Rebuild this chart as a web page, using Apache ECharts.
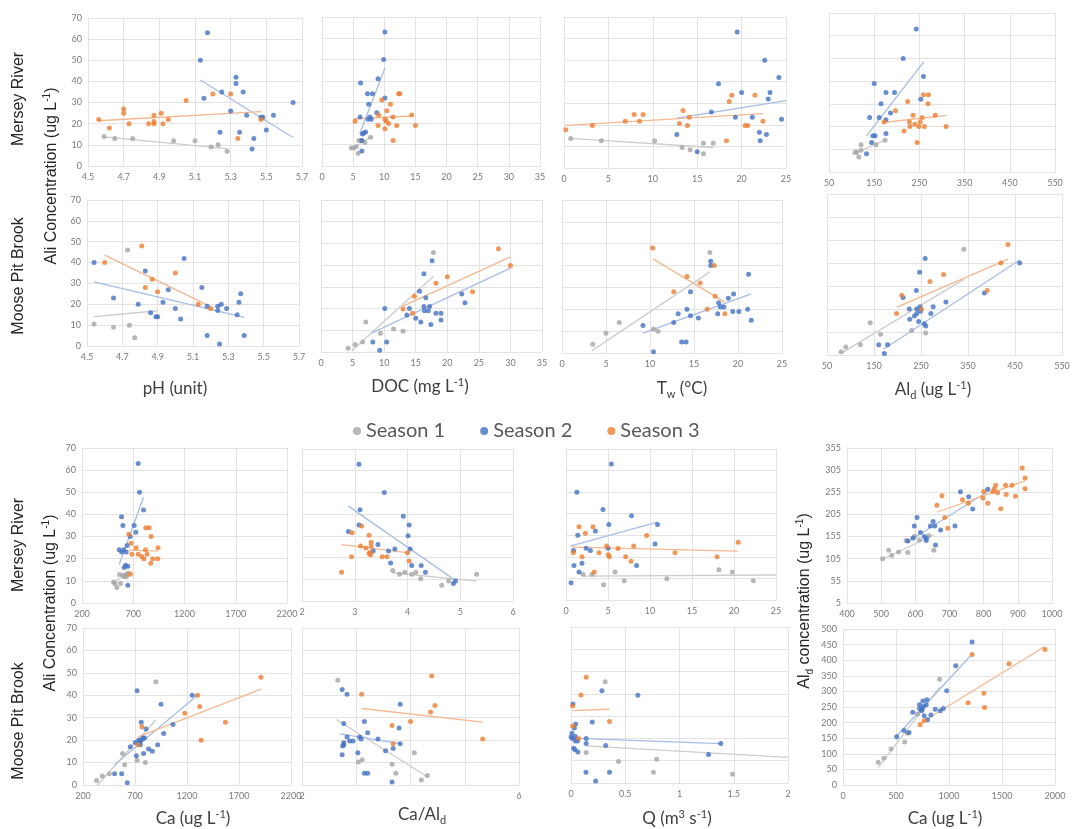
<!DOCTYPE html>
<html>
<head>
<meta charset="utf-8">
<script src="https://cdn.jsdelivr.net/npm/echarts@6/dist/echarts.min.js"></script>
<style>
  html, body { margin: 0; padding: 0; background: #ffffff; }
  #chart { width: 1084px; height: 829px; }
</style>
</head>
<body>
<div id="chart"></div>
<script>
// ---- Season names ----
const seasons = ['Season 1', 'Season 2', 'Season 3'];

// ---- Mersey River: Ali (ug/L) vs pH ----
const merseyPH1 = [[4.59,14],[4.65,13],[4.75,13],[4.98,12],[5.10,12],[5.19,9],[5.23,10],[5.28,7]];
const merseyPH2 = [[5.13,50],[5.17,63],[5.15,32],[5.25,35],[5.24,16],[5.30,26],[5.33,42],[5.33,39],[5.37,35],[5.39,24],[5.35,16],[5.43,13],[5.42,8],[5.47,23],[5.48,23],[5.50,17],[5.54,24],[5.65,30]];
const merseyPH3 = [[4.56,22],[4.62,18],[4.70,27],[4.70,25],[4.73,20],[4.84,20],[4.87,24],[4.87,21],[4.87,20],[4.91,25],[4.92,20],[4.95,22],[5.05,31],[5.20,34],[5.30,34],[5.34,13],[5.47,22]];
const merseyPHFit = [[4.59,13.8,5.28,8.2],[5.13,40.7,5.65,13.5],[4.56,21.4,5.47,25.7]];

// ---- Mersey River: Ali vs DOC ----
const merseyDOC1 = [[4.7,8.5],[5.1,8.5],[5.5,9],[5.8,6],[5.9,12],[6.3,12],[6.9,11],[7.8,13.5]];
const merseyDOC2 = [[10.1,63],[9.9,50],[9.0,41],[6.2,39],[7.3,34],[8.1,34],[7.5,29],[10.1,32],[8.8,25],[6.1,23],[7.7,23],[7.4,22],[7.9,22],[7.0,16],[6.7,15.5],[6.5,15],[6.4,12],[6.4,7]];
const merseyDOC3 = [[9.6,31],[12.3,34],[12.5,34],[11.0,29],[10.4,26],[9.1,24],[5.3,21],[10.1,22],[10.3,21],[10.7,20],[11.4,23],[9.0,19],[12.0,19],[14.4,24],[15.0,19],[10.1,17.5],[11.4,12]];
const merseyDOCFit = [[4.7,7.7,7.8,13.6],[6.06,15.2,10.1,46.0],[5.1,22.2,14.4,23.5]];

// ---- Mersey River: Ali vs water temperature ----
const merseyTw1 = [[0.75,13.7],[4.2,12.6],[10.2,12.6],[13.3,9.5],[14.2,8.5],[15.7,11.5],[16.8,11.5],[15.7,6.6]];
const merseyTw2 = [[19.5,63],[22.6,50],[24.2,42],[17.4,39],[20.0,35],[23.2,35],[23.0,32],[16.6,26],[19.3,23.5],[21.2,23.5],[24.5,22.6],[12.7,15.5],[22.0,16.6],[22.8,15.5],[22.1,12.6],[15.0,7.5]];
const merseyTw3 = [[0.2,17.7],[3.2,19.7],[6.9,21.7],[7.9,24.8],[8.5,21.7],[8.9,24.8],[13.4,26.6],[14.1,23.5],[13.0,20.6],[13.9,19.7],[18.6,30.8],[18.9,33.7],[21.5,33.7],[20.4,19.7],[20.7,19.7],[22.4,21.7],[18.3,12.6]];
const merseyTwFit = [[0.75,13.7,16.8,9.5],[12.7,23.1,25.0,31.2],[0.2,19.8,22.4,25.2]];

// ---- Mersey River: Ali vs Ald ----
const merseyAld1 = [[121,12],[154,12],[174,14],[121,9.6],[111,8.7],[116,6.6],[108,8.7]];
const merseyAld2 = [[243,63],[214,50],[259,42],[150,39],[176,35],[195,35],[253,32],[165,30],[186,26],[140,24],[161,24],[176,23],[147,16],[152,16],[176,17],[144,13],[133,8]];
const merseyAld3 = [[259,34],[270,34],[224,31],[269,30],[197,27],[236,25],[285,25],[256,24],[172,22],[228,22],[252,22],[240,21],[229,20],[249,20],[261,20],[309,20],[216,18],[245,13]];
const merseyAldFit = [[100,7.7,174,14.0],[133,15.9,260,48.6],[170,21.8,309,24.9]];

// ---- Moose Pit Brook: Ali vs pH ----
const moosePH1 = [[4.54,10.5],[4.65,9],[4.73,46],[4.74,10],[4.77,4]];
const moosePH2 = [[4.54,40],[4.83,36],[5.05,42],[4.65,23],[4.79,20],[4.86,16],[4.89,14],[4.90,14],[4.93,21],[4.96,27],[5.00,18],[5.03,13],[5.15,28],[5.18,19],[5.18,5],[5.24,19],[5.24,17],[5.26,20],[5.25,1],[5.29,18],[5.35,15],[5.36,21],[5.37,25],[5.39,5]];
const moosePH3 = [[4.60,40],[4.81,48],[4.87,32],[4.83,28],[4.90,26],[5.00,35],[5.13,20],[5.20,18]];
const moosePHFit = [[4.54,14.1,4.90,16.9],[4.54,30.7,5.39,13.7],[4.60,43.6,5.20,18.9]];

// ---- Moose Pit Brook: Ali vs DOC ----
const mooseDOC1 = [[17.8,45.8],[7.1,13.8],[9.4,8.6],[11.5,10.6],[13.0,9.6],[6.6,4.6],[5.4,3.5],[4.3,1.7]];
const mooseDOC2 = [[17.6,42],[16.3,36],[15.6,28],[16.6,25],[10.1,20],[14.0,20],[16.3,21],[17.2,21],[16.4,19],[17.0,19],[13.6,17],[15.0,15.6],[18.2,17.8],[19.0,17.8],[19.0,14.7],[15.8,13.8],[17.4,12.7],[22.3,26.7],[22.8,22.7],[8.2,4.6],[10.4,4.6],[9.3,0.8]];
const mooseDOC3 = [[28.1,47.6],[30.0,39.8],[20.0,34.6],[18.2,31.7],[14.8,25.7],[24.0,27.7],[13.0,19.8],[14.5,17.8]];
const mooseDOCFit = [[4.85,0.5,17.8,34.8],[8.0,8.7,30.0,38.6],[12.9,21.0,30.0,43.8]];

// ---- Moose Pit Brook: Ali vs water temperature ----
const mooseTw1 = [[16.8,46],[6.5,14],[5.0,9],[3.5,4],[10.4,11],[10.9,10]];
const mooseTw2 = [[21.2,36],[16.9,42],[16.9,40],[14.6,28],[19.5,27],[18.9,25],[17.8,23],[18.0,21],[18.4,21],[14.2,20],[21.1,20],[17.7,18],[13.2,18],[19.4,19],[20.1,19],[14.6,17],[15.5,16],[21.5,15],[12.7,14],[9.2,12.6],[13.6,5],[14.1,5],[10.4,0.6]];
const mooseTw3 = [[10.3,48],[17.3,40],[14.2,35],[15.7,32],[12.7,28],[17.4,26],[16.5,20],[18.5,18]];
const mooseTwFit = [[3.4,1.1,16.8,37.1],[9.2,9.1,21.5,27.1],[10.3,43.2,18.5,23.3]];

// ---- Moose Pit Brook: Ali vs Ald ----
const mooseAld1 = [[341,46],[142,14],[164,9],[121,4.5],[90,3.5],[80,1.4],[230,10.6],[260,9.6]];
const mooseAld2 = [[259,42],[247,36],[240,28],[212,25],[460,40],[385,27],[303,23],[276,21],[248,21],[225,20],[241,20],[249,19],[241,18],[271,18],[236,17],[226,15.5],[245,14.6],[257,13.6],[260,12.6],[160,4.5],[179,4.5],[172,0.6]];
const mooseAld3 = [[435,48],[420,40],[298,35],[269,32],[209,26],[391,28],[251,20],[198,18]];
const mooseAldFit = [[80,0.7,341,32.9],[170,2.5,460,41.3],[198,20.7,435,41.7]];

// ---- Mersey River: Ali vs Ca ----
const merseyCa1 = [[508,9.5],[521,8.8],[540,7],[566,12.9],[576,8.8],[599,12.5],[612,11.8],[631,12.9],[651,13.6],[634,11.8]];
const merseyCa2 = [[748,63],[761,50],[800,42],[586,39],[599,35],[709,35],[725,32],[670,30],[641,26],[563,24],[586,23],[605,24],[631,23],[625,17],[647,16.6],[612,16],[647,8]];
const merseyCa3 = [[657,31],[680,27],[686,22],[728,25],[748,22],[783,21],[803,20],[822,34],[855,34],[819,24],[835,22],[874,30],[871,18],[890,20],[939,20],[942,25],[673,13]];
const merseyCaFit = [[492,8.8,651,13.6],[563,17.4,800,47.8],[657,23.9,942,23.4]];

// ---- Mersey River: Ali vs Ca/Ald ----
const merseyRatio1 = [[3.72,14.1],[3.85,12.3],[3.95,13.2],[4.08,12.3],[4.16,13.2],[4.25,10.3],[4.65,7.2],[4.78,9.2],[5.31,12.3]];
const merseyRatio2 = [[3.08,63],[3.56,50],[3.10,42],[2.88,32],[3.08,35],[3.92,39],[4.03,35],[4.01,30],[4.05,24],[3.44,26],[3.35,23],[3.64,23],[3.76,24],[3.68,17.5],[4.08,16.4],[4.26,16.4],[4.34,13.2],[4.87,8.1],[4.91,9.2]];
const merseyRatio3 = [[3.13,34.5],[2.95,31.4],[3.27,30.3],[3.31,27.1],[3.11,25.3],[3.21,24.4],[3.31,25.3],[3.29,22.5],[3.30,21.3],[3.52,20.4],[3.61,20.4],[2.94,20.4],[4.00,22.2],[4.03,18.4],[2.75,13.2],[3.27,21.9]];
const merseyRatioFit = [[3.72,13.0,5.31,9.2],[2.88,43.7,4.90,9.6],[2.75,26.0,4.03,22.2]];

// ---- Mersey River: Ali vs discharge Q ----
const merseyQ1 = [[2.02,11.9],[3.10,11.9],[5.83,13.0],[4.48,7.1],[6.94,8.9],[12.0,9.9],[18.2,14.0],[19.8,13.0],[22.3,8.9]];
const merseyQ2 = [[5.4,63],[1.3,50],[4.4,42],[7.8,39],[5.1,35],[10.9,35],[3.5,32],[1.4,30],[10.6,26],[5.0,24],[2.4,24],[2.9,23],[0.9,23],[1.9,17],[0.95,16],[1.55,13],[8.4,16],[0.6,8]];
const merseyQ3 = [[1.55,33.9],[3.21,33.9],[2.30,31.0],[9.60,29.9],[4.84,25.0],[6.19,23.9],[8.06,25.0],[0.87,21.9],[3.93,21.9],[5.04,21.0],[5.16,20.0],[1.90,20.0],[7.10,20.0],[7.74,18.0],[12.98,21.9],[17.98,20.0],[20.5,26.8],[3.37,13.0]];
const merseyQFit = [[2.0,11.1,25,11.6],[0.5,25.0,10.9,36.1],[0.7,24.5,20.5,22.7]];

// ---- Mersey River: Ald vs Ca ----
const merseyAlCa1 = [[504,105],[522,124],[531,112],[551,120],[578,119],[573,146],[598,156],[612,147],[639,157],[654,124]];
const merseyAlCa2 = [[578,145],[593,152],[597,179],[605,198],[615,164],[626,155],[632,151],[632,146],[644,179],[652,189],[657,179],[659,136],[674,170],[716,179],[732,256],[756,245],[768,217],[812,262]];
const merseyAlCa3 = [[663,226],[678,247],[686,198],[695,174],[738,238],[755,230],[798,242],[812,230],[800,257],[827,257],[831,263],[841,254],[835,271],[864,271],[883,271],[866,250],[850,218],[913,310],[921,287],[921,263],[893,246]];
const merseyAlCaFit = [[502,103.3,654,158.5],[578,143.3,812,256.7],[663,209.9,921,281.0]];

// ---- Moose Pit Brook: Ali vs Ca ----
const mooseCa1 = [[900,46],[331,2],[386,4],[453,5],[580,14],[601,9],[719,11],[799,10]];
const mooseCa2 = [[720,42],[950,36],[1250,40],[760,28],[806,25],[1065,27],[976,23],[745,19],[758,20],[777,21],[790,21],[735,20],[751,18],[703,19],[713,13],[783,14],[831,16],[867,15],[918,18],[655,17],[504,5],[572,5],[626,1]];
const mooseCa3 = [[1911,48],[1302,40],[1178,32],[1322,35],[1569,28],[1335,20],[767,26],[729,18]];
const mooseCaFit = [[340,0,900,29],[504,9,1300,40],[729,21.5,1911,42.7]];

// ---- Moose Pit Brook: Ali vs Ca/Ald ----
const mooseRatio1 = [[2.66,46.7],[3.04,10.2],[3.11,11.3],[3.66,9.3],[3.73,5.2],[4.07,14.4],[4.20,2.2],[4.31,4.2]];
const mooseRatio2 = [[2.74,42.6],[2.83,40.5],[2.77,27.4],[3.81,36.0],[3.15,28.3],[3.79,25.4],[2.83,21.4],[2.88,19.6],[2.94,19.6],[2.77,18.8],[2.77,17.9],[2.75,17.4],[2.74,13.5],[3.06,21.4],[3.09,20.5],[3.21,23.3],[3.40,20.5],[3.03,14.4],[3.54,15.3],[3.68,16.3],[3.81,18.4],[3.15,5.2],[3.21,5.2],[3.66,1.3]];
const mooseRatio3 = [[3.10,40.5],[4.39,48.6],[4.45,35.4],[4.37,32.6],[4.00,28.3],[3.66,26.5],[3.68,18.4],[5.33,20.5]];
const mooseRatioFit = [[2.63,29.2,4.31,3.7],[2.70,22.8,3.81,18.4],[3.10,34.1,5.33,28.0]];

// ---- Moose Pit Brook: Ali vs discharge Q ----
const mooseQ1 = [[0.315,45.4],[0.14,13.7],[0.438,9.7],[0.79,10.7],[0.76,4.8],[1.489,3.9]];
const mooseQ2 = [[0.018,35.4],[0.285,41.4],[0.616,39.4],[0.196,27.4],[0.043,26.5],[0.031,24.7],[0.009,22.3],[0.0,20.6],[0.012,20.0],[0.04,20.9],[0.04,18.9],[0.061,18.9],[0.14,20.0],[0.14,17.7],[0.025,15.6],[0.037,14.9],[0.064,13.9],[0.32,16.8],[0.138,4.8],[0.355,4.8],[0.227,0.9],[1.381,17.7],[1.268,12.8]];
const mooseQ3 = [[0.14,47.4],[0.092,39.5],[0.015,34.6],[0.015,25.6],[0.355,27.6],[0.07,20.0]];
const mooseQFit = [[0.14,16.7,2.0,11.5],[0.0,20.1,1.38,17.7],[0.015,32.5,0.355,33.1]];

// ---- Moose Pit Brook: Ald vs Ca ----
const mooseAlCa1 = [[911,339],[703,227],[608,166],[582,138],[453,115],[386,86],[332,73]];
const mooseAlCa2 = [[1218,458],[1063,382],[978,302],[946,245],[918,238],[870,243],[829,224],[797,209],[785,257],[791,273],[753,269],[759,252],[747,243],[722,257],[722,245],[741,238],[766,222],[658,233],[623,168],[576,175],[506,155]];
const mooseAlCa3 = [[1905,434],[1218,418],[1566,389],[1329,294],[1180,264],[1335,248],[766,206],[728,193]];
const mooseAlCaFit = [[332,56,911,314],[506,157,1218,420],[728,198,1905,444]];

// ---- Axis scales [min, max, interval] ----
const aliScale = [0, 70, 10];
const pHScale = [4.5, 5.7, 0.2];
const docScale = [0, 35, 5];
const twScale = [0, 25, 5];
const aldScale = [50, 550, 100];
const caScale = [200, 2200, 500];
const ratioScale = [2, 6, 1];
const qMerseyScale = [0, 25, 5];
const qMooseScale = [0, 2, 0.5];
const caMerseyScale = [400, 1000, 100];
const aldMerseyScale = [5, 355, 50];
const caMooseScale = [0, 2000, 500];
const aldMooseScale = [0, 500, 50];

// ---- Panel layout: plot rectangle [left, top, width, height] ----
// xl: 'ends' shows only the first and last x labels
const panels = [
  { box: [88, 18, 214, 148],  x: pHScale,       y: aliScale, yLabels: true,  fmt: 1, s: [merseyPH1, merseyPH2, merseyPH3], fit: merseyPHFit },
  { box: [322, 17, 218, 149], x: docScale,      y: aliScale, yLabels: false, s: [merseyDOC1, merseyDOC2, merseyDOC3], fit: merseyDOCFit },
  { box: [564, 17, 222, 151], x: twScale,       y: aliScale, yLabels: false, s: [merseyTw1, merseyTw2, merseyTw3], fit: merseyTwFit },
  { box: [829, 13, 226, 159], x: aldScale,      y: aliScale, yLabels: false, s: [merseyAld1, merseyAld2, merseyAld3], fit: merseyAldFit },
  { box: [87, 200, 212, 146], x: pHScale,       y: aliScale, yLabels: true,  fmt: 1, s: [moosePH1, moosePH2, moosePH3], fit: moosePHFit },
  { box: [321, 200, 221, 152], x: docScale,     y: aliScale, yLabels: false, s: [mooseDOC1, mooseDOC2, mooseDOC3], fit: mooseDOCFit },
  { box: [562, 200, 220, 153], x: twScale,      y: aliScale, yLabels: false, s: [mooseTw1, mooseTw2, mooseTw3], fit: mooseTwFit },
  { box: [827, 194, 235, 161], x: aldScale,     y: aliScale, yLabels: false, s: [mooseAld1, mooseAld2, mooseAld3], fit: mooseAldFit },
  { box: [82, 448, 205, 155],  x: caScale,      y: aliScale, yLabels: true,  s: [merseyCa1, merseyCa2, merseyCa3], fit: merseyCaFit },
  { box: [302, 449, 211, 152], x: ratioScale,   y: aliScale, yLabels: false, s: [merseyRatio1, merseyRatio2, merseyRatio3], fit: merseyRatioFit },
  { box: [566, 449, 210, 151], x: qMerseyScale, y: aliScale, yLabels: false, s: [merseyQ1, merseyQ2, merseyQ3], fit: merseyQFit },
  { box: [847, 448, 205, 155], x: caMerseyScale, y: aldMerseyScale, yLabels: true, s: [merseyAlCa1, merseyAlCa2, merseyAlCa3], fit: merseyAlCaFit },
  { box: [83, 628, 208, 157],  x: caScale,      y: aliScale, yLabels: true,  s: [mooseCa1, mooseCa2, mooseCa3], fit: mooseCaFit },
  { box: [302, 628, 217, 157], x: ratioScale,   y: aliScale, yLabels: false, xl: 'ends', s: [mooseRatio1, mooseRatio2, mooseRatio3], fit: mooseRatioFit },
  { box: [571, 627, 217, 156], x: qMooseScale,  y: aliScale, yLabels: false, s: [mooseQ1, mooseQ2, mooseQ3], fit: mooseQFit },
  { box: [843, 629, 212, 156], x: caMooseScale, y: aldMooseScale, yLabels: true, s: [mooseAlCa1, mooseAlCa2, mooseAlCa3], fit: mooseAlCaFit }
];

// ---- Styles ----
const markerColors = ['#A5A5A5', '#4472C4', '#ED7D31'];
const fitColors = ['#cdcdcd', '#a7bde6', '#f5b892'];
const gridColor = '#e3e3e3';
const tickFont = { fontSize: 9, color: '#7b7b7b', fontFamily: 'Lato, "Open Sans", sans-serif' };

const grid = [], xAxis = [], yAxis = [], series = [];

function xFormatter(p) {
  return (v) => {
    if (p.xl === 'ends' && v !== p.x[0] && v !== p.x[1]) return '';
    return p.fmt ? v.toFixed(p.fmt) : String(v);
  };
}

panels.forEach((p, i) => {
  grid.push({ left: p.box[0], top: p.box[1], width: p.box[2], height: p.box[3], outerBoundsMode: 'none', containLabel: false });
  xAxis.push({
    gridIndex: i, type: 'value', min: p.x[0], max: p.x[1], interval: p.x[2],
    axisLine: { show: true, lineStyle: { color: gridColor } }, axisTick: { show: false },
    axisLabel: Object.assign({ margin: 7, showMinLabel: true, showMaxLabel: true, formatter: xFormatter(p) }, tickFont),
    splitLine: { show: true, showMinLine: true, showMaxLine: true, lineStyle: { color: gridColor, width: 1 } }
  });
  yAxis.push({
    gridIndex: i, type: 'value', min: p.y[0], max: p.y[1], interval: p.y[2],
    axisLine: { show: true, lineStyle: { color: gridColor } }, axisTick: { show: false },
    axisLabel: Object.assign({ show: p.yLabels, margin: 6, showMinLabel: true, showMaxLabel: true,
      formatter: (v) => String(v) }, tickFont),
    splitLine: { show: true, showMinLine: true, showMaxLine: true, lineStyle: { color: gridColor, width: 1 } }
  });
  // trend lines, one per season
  p.fit.forEach((f, k) => {
    series.push({
      name: 'fit' + (k + 1), type: 'line', xAxisIndex: i, yAxisIndex: i,
      data: [[f[0], f[1]], [f[2], f[3]]], symbol: 'none', silent: true, z: 3,
      lineStyle: { color: fitColors[k], width: 1.3 }
    });
  });
  // observations
  p.s.forEach((d, k) => {
    series.push({
      name: seasons[k], type: 'scatter', xAxisIndex: i, yAxisIndex: i,
      data: d, symbol: 'circle', symbolSize: 5, z: 4,
      itemStyle: { color: markerColors[k] }
    });
  });
});

// ---- Text labels (rich text for sub/superscripts) ----
const baseFont = 'Lato, "Open Sans", sans-serif';
const sideFont = '"Liberation Sans", Arial, sans-serif';
function richSet(size, family, fill) {
  const small = Math.round(size * 0.62);
  return {
    a: { fontSize: size, fontFamily: family, fill: fill, lineHeight: size + 4 },
    s: { fontSize: small, fontFamily: family, fill: fill, lineHeight: small + 1, verticalAlign: 'top' },
    b: { fontSize: small, fontFamily: family, fill: fill, lineHeight: small + 1, verticalAlign: 'bottom' }
  };
}
function label(text, x, y, size, family, fill, vertical) {
  return {
    type: 'text', x: x, y: y, rotation: vertical ? Math.PI / 2 : 0, silent: true, z: 10,
    style: { text: text, rich: richSet(size, family, fill), align: 'center', verticalAlign: 'middle' }
  };
}
const dark = '#262626';
const titleCol = '#404040';
const graphics = [
  label('{a|Mersey River}', 19, 99, 16, sideFont, dark, true),
  label('{a|Moose Pit Brook}', 19, 276, 16, sideFont, dark, true),
  label('{a|Ali Concentration (ug L}{s|-1}{a|)}', 52, 176, 16, sideFont, dark, true),
  label('{a|Mersey River}', 19, 545, 16, sideFont, dark, true),
  label('{a|Moose Pit Brook}', 19, 721, 16, sideFont, dark, true),
  label('{a|Ali Concentration (ug L}{s|-1}{a|)}', 51, 603, 16, sideFont, dark, true),
  label('{a|Al}{b|d}{a| concentration (ug L}{s|-1}{a|)}', 805, 601, 16, sideFont, dark, true),
  label('{a|pH (unit)}', 175, 389, 17, baseFont, titleCol, false),
  label('{a|DOC (mg L}{s|-1}{a|)}', 420, 387, 17, baseFont, titleCol, false),
  label('{a|T}{b|w}{a| (°C)}', 682, 389, 17, baseFont, titleCol, false),
  label('{a|Al}{b|d}{a| (ug L}{s|-1}{a|)}', 933, 390, 17, baseFont, titleCol, false),
  label('{a|Ca (ug L}{s|-1}{a|)}', 193, 819, 17, baseFont, titleCol, false),
  label('{a|Ca/Al}{b|d}', 422, 815, 17, baseFont, titleCol, false),
  label('{a|Q (m}{s|3}{a| s}{s|-1}{a|)}', 677, 819, 17, baseFont, titleCol, false),
  label('{a|Ca (ug L}{s|-1}{a|)}', 945, 819, 17, baseFont, titleCol, false)
];

const chart = echarts.init(document.getElementById('chart'), null, { renderer: 'canvas' });
chart.setOption({
  animation: false,
  backgroundColor: '#ffffff',
  legend: {
    data: seasons, top: 416, left: 348, icon: 'circle', itemWidth: 8, itemHeight: 8, itemGap: 35,
    textStyle: { fontSize: 20, fontFamily: baseFont, color: '#595959' }
  },
  grid: grid,
  xAxis: xAxis,
  yAxis: yAxis,
  series: series,
  graphic: graphics
});
</script>
</body>
</html>
